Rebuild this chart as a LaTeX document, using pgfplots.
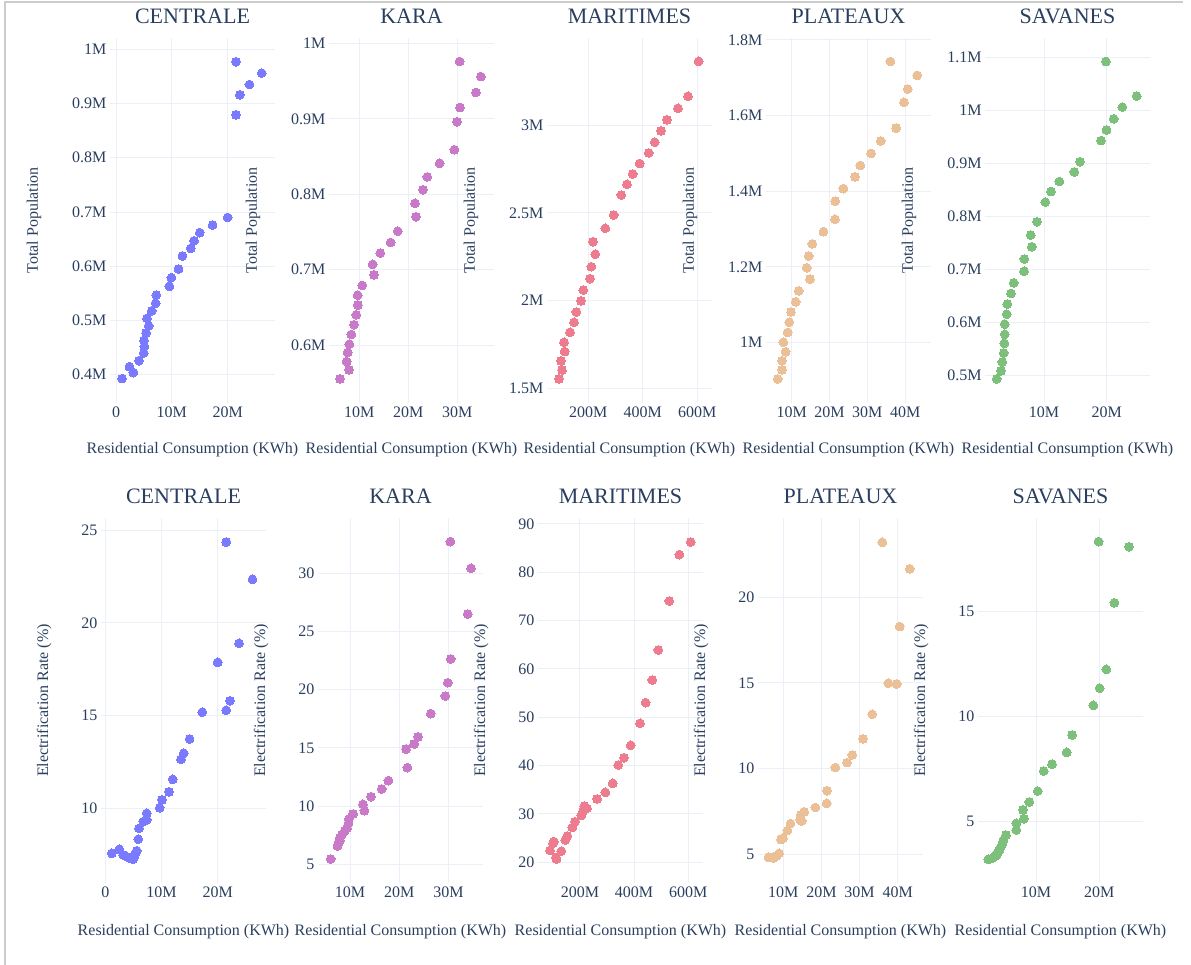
\documentclass[border=0pt]{standalone}
\usepackage{fontspec}
\setmainfont{Liberation Serif}
\usepackage{pgfplots}
\pgfplotsset{compat=1.18}
\definecolor{txt}{HTML}{2A3F5F}
\definecolor{gridc}{HTML}{EBF0F8}
\definecolor{cC}{RGB}{122,122,255}
\definecolor{cK}{RGB}{200,122,200}
\definecolor{cM}{RGB}{236,124,142}
\definecolor{cP}{RGB}{236,192,150}
\definecolor{cS}{RGB}{124,192,124}
\pgfplotsset{
 base/.style={scale only axis, width=165pt, height=365pt, anchor=south west,
   axis line style={draw=none}, major tick length=0pt,
   grid=major, grid style={draw=gridc, line width=1pt},
   tick label style={font=\fontsize{16}{18}\selectfont, text=txt},
   /pgf/number format/assume math mode=true,
   xlabel={Residential Consumption (KWh)},
   label style={font=\fontsize{16}{19}\selectfont, text=txt},
   title style={font=\fontsize{22}{26}\selectfont, text=txt, at={(axis description cs:0.5,1)}, anchor=base, yshift=8pt},
   clip=false},
 toprow/.style={base, ylabel={Total Population},
   ylabel style={at={(axis description cs:-0.461,0.5)}, anchor=center},
   xlabel style={at={(axis description cs:0.5,-0.129)}, anchor=center}},
 botrow/.style={base, ylabel={Electrification Rate (\%)},
   ylabel style={at={(axis description cs:-0.345,0.5)}, anchor=center},
   xlabel style={at={(axis description cs:0.5,-0.134)}, anchor=center}},
 pts/.style={only marks, mark=*, mark size=4.4pt, color=#1, mark options={draw=#1, fill=#1, line width=0pt}},
}
\begin{document}
\begin{tikzpicture}
\path[use as bounding box, fill=white] (0pt,0pt) rectangle (1191pt,965pt);
\draw[black!20, line width=1.5pt] (5pt,0pt) -- (5pt,963pt) -- (1183pt,963pt);
% ---------------- TOP ROW ----------------
\begin{axis}[toprow, at={(110pt,562pt)}, title={CENTRALE},
  xmin=-1.08, xmax=28.49, ymin=0.348, ymax=1.0208,
  xtick={0,10,20}, xticklabels={0,10M,20M},
  ytick={0.4,0.5,0.6,0.7,0.8,0.9,1}, yticklabels={0.4M,0.5M,0.6M,0.7M,0.8M,0.9M,1M}]
\addplot[pts=cC] table {
1.08 0.393
2.4 0.415
3.1 0.404
4.1 0.426
4.96 0.440
5.08 0.452
5.0 0.463
5.38 0.477
5.85 0.490
5.56 0.504
6.4 0.518
7.1 0.532
7.23 0.547
9.56 0.563
9.92 0.579
11.2 0.595
11.9 0.619
13.4 0.633
14.0 0.647
15.0 0.662
17.3 0.676
20.0 0.690
21.5 0.879
22.2 0.916
23.9 0.935
26.1 0.956
21.5 0.977
};
\end{axis}
\begin{axis}[toprow, at={(329pt,562pt)}, title={KARA},
  xmin=3.82, xmax=37.49, ymin=0.5231, ymax=1.0072,
  xtick={10,20,30}, xticklabels={10M,20M,30M},
  ytick={0.6,0.7,0.8,0.9,1}, yticklabels={0.6M,0.7M,0.8M,0.9M,1M}]
\addplot[pts=cK] table {
6.06 0.555
7.9 0.567
7.43 0.578
7.63 0.590
7.97 0.601
8.37 0.614
8.92 0.627
9.39 0.640
9.73 0.653
9.67 0.666
10.6 0.679
13.0 0.693
12.73 0.707
14.3 0.722
16.4 0.736
17.84 0.751
21.57 0.770
21.37 0.788
23.0 0.806
23.88 0.823
26.4 0.841
29.4 0.859
29.94 0.896
30.55 0.915
33.8 0.935
34.8 0.956
30.5 0.976
};
\end{axis}
\begin{axis}[toprow, at={(547pt,562pt)}, title={MARITIMES},
  xmin=48.4, xmax=654, ymin=1.416, ymax=3.497,
  xtick={200,400,600}, xticklabels={200M,400M,600M},
  ytick={1.5,2,2.5,3}, yticklabels={1.5M,2M,2.5M,3M}]
\addplot[pts=cM] table {
92.5 1.553
103.5 1.604
99.8 1.656
113.3 1.709
110.8 1.762
132.8 1.819
147.5 1.876
156 1.935
173.2 1.998
181.7 2.060
206.2 2.125
211 2.193
225.7 2.264
217.2 2.336
262.4 2.412
293.2 2.488
321.1 2.602
342 2.663
362.9 2.722
388.6 2.781
421.6 2.842
443.7 2.903
466.8 2.967
488.8 3.030
529.2 3.096
565.9 3.165
605.1 3.364
};
\end{axis}
\begin{axis}[toprow, at={(766pt,562pt)}, title={PLATEAUX},
  xmin=3.2, xmax=46.85, ymin=0.8406, ymax=1.805,
  xtick={10,20,30,40}, xticklabels={10M,20M,30M,40M},
  ytick={1,1.2,1.4,1.6,1.8}, yticklabels={1M,1.2M,1.4M,1.6M,1.8M}]
\addplot[pts=cP] table {
6.29 0.904
7.43 0.928
7.43 0.952
8.4 0.976
7.78 1.001
8.94 1.027
9.37 1.054
9.81 1.081
11.06 1.108
11.85 1.137
14.84 1.168
13.97 1.198
14.5 1.229
15.45 1.261
18.4 1.293
21.45 1.326
21.5 1.374
23.65 1.407
26.75 1.438
28.15 1.468
31.0 1.500
33.55 1.533
37.6 1.567
39.7 1.635
40.7 1.670
43.2 1.706
36.1 1.743
};
\end{axis}
\begin{axis}[toprow, at={(985pt,562pt)}, title={SAVANES},
  xmin=0.59, xmax=26.9, ymin=0.4486, ymax=1.1363,
  xtick={10,20}, xticklabels={10M,20M},
  ytick={0.5,0.6,0.7,0.8,0.9,1,1.1}, yticklabels={0.5M,0.6M,0.7M,0.8M,0.9M,1M,1.1M}]
\addplot[pts=cS] table {
2.45 0.494
3.14 0.509
3.35 0.526
3.57 0.543
3.67 0.561
3.73 0.578
3.73 0.597
4.05 0.616
4.15 0.635
4.74 0.655
5.17 0.675
6.81 0.697
6.86 0.720
8.04 0.743
7.88 0.765
8.88 0.790
10.21 0.827
11.12 0.847
12.44 0.866
14.83 0.884
15.74 0.903
19.09 0.943
19.97 0.963
21.11 0.984
22.49 1.006
24.78 1.027
19.86 1.092
};
\end{axis}
% ---------------- BOTTOM ROW ----------------
\begin{axis}[botrow, at={(101pt,82pt)}, title={CENTRALE},
  xmin=-0.77, xmax=28.6, ymin=5.97, ymax=25.66,
  xtick={0,10,20}, xticklabels={0,10M,20M},
  ytick={10,15,20,25}, yticklabels={10,15,20,25}]
\addplot[pts=cC] table {
1.14 7.57
2.49 7.79
3.2 7.48
3.8 7.39
4.4 7.30
4.98 7.25
5.28 7.48
5.59 7.71
5.87 8.33
6.0 8.92
6.76 9.28
7.37 9.37
7.37 9.73
9.68 10.03
10.09 10.45
11.33 10.88
12.0 11.56
13.47 12.64
13.95 12.97
15.0 13.74
17.26 15.18
20.0 17.87
21.5 24.36
21.5 15.29
22.2 15.80
23.8 18.90
26.2 22.35
};
\end{axis}
\begin{axis}[botrow, at={(318pt,82pt)}, title={KARA},
  xmin=3.48, xmax=37.0, ymin=3.39, ymax=34.75,
  xtick={10,20,30}, xticklabels={10M,20M,30M},
  ytick={5,10,15,20,25,30}, yticklabels={5,10,15,20,25,30}]
\addplot[pts=cK] table {
6.06 5.46
7.43 6.57
7.63 6.80
7.9 7.25
7.97 7.03
8.37 7.55
8.92 7.86
9.39 8.09
9.67 8.52
9.73 8.87
10.6 9.32
12.62 10.15
12.89 9.60
14.25 10.81
16.42 11.47
17.77 12.18
21.36 14.90
21.63 13.30
22.99 15.33
23.8 15.94
26.38 17.94
29.35 19.46
29.84 20.60
30.45 22.64
30.37 32.72
33.9 26.50
34.57 30.43
};
\end{axis}
\begin{axis}[botrow, at={(538pt,82pt)}, title={MARITIMES},
  xmin=45, xmax=654.5, ymin=15.72, ymax=91.24,
  xtick={200,400,600}, xticklabels={200M,400M,600M},
  ytick={20,30,40,50,60,70,80,90}, yticklabels={20,30,40,50,60,70,80,90}]
\addplot[pts=cM] table {
89.4 22.48
99.8 23.9
103.5 24.3
110.8 21.0
113.3 20.7
131.2 22.3
146 24.6
153.4 25.43
171.8 27.2
181.7 28.4
205 29.7
210.1 30.47
216.2 31.65
226 31.17
263 33.1
293.7 34.47
320.9 36.33
341.7 40.12
362.7 41.64
387.3 44.2
421.8 48.76
442.8 53.03
467.2 57.72
489.4 63.93
530 74.07
566.9 83.65
609 86.27
};
\end{axis}
\begin{axis}[botrow, at={(758pt,82pt)}, title={PLATEAUX},
  xmin=3.36, xmax=46.63, ymin=3.32, ymax=24.63,
  xtick={10,20,30,40}, xticklabels={10M,20M,30M,40M},
  ytick={5,10,15,20}, yticklabels={5,10,15,20}]
\addplot[pts=cP] table {
6.1 4.82
7.4 4.77
7.6 4.85
8.3 4.90
8.9 5.05
9.4 5.86
9.6 5.90
9.9 5.93
11.06 6.38
11.9 6.79
14.37 7.02
14.63 7.29
14.8 6.94
15.45 7.47
18.4 7.73
21.37 7.97
21.45 8.71
23.63 10.06
26.7 10.35
28.09 10.80
30.9 11.73
33.33 13.17
37.53 14.98
39.73 14.94
40.52 18.29
43.14 21.66
35.96 23.21
};
\end{axis}
\begin{axis}[botrow, at={(978pt,82pt)}, title={SAVANES},
  xmin=0.84, xmax=26.9, ymin=2.04, ymax=19.48,
  xtick={10,20}, xticklabels={10M,20M},
  ytick={5,10,15}, yticklabels={5,10,15}]
\addplot[pts=cS] table {
2.46 3.17
3.0 3.22
3.3 3.27
3.6 3.33
3.8 3.40
4.0 3.50
4.2 3.60
4.35 3.72
4.6 3.86
4.85 4.08
5.26 4.33
6.89 4.57
6.89 4.89
8.1 5.11
7.95 5.53
8.95 5.91
10.27 6.43
11.22 7.39
12.53 7.72
14.85 8.28
15.69 9.11
19.05 10.53
20.06 11.35
21.11 12.25
22.37 15.43
24.69 18.11
19.9 18.35
};
\end{axis}
\end{tikzpicture}
\end{document}
